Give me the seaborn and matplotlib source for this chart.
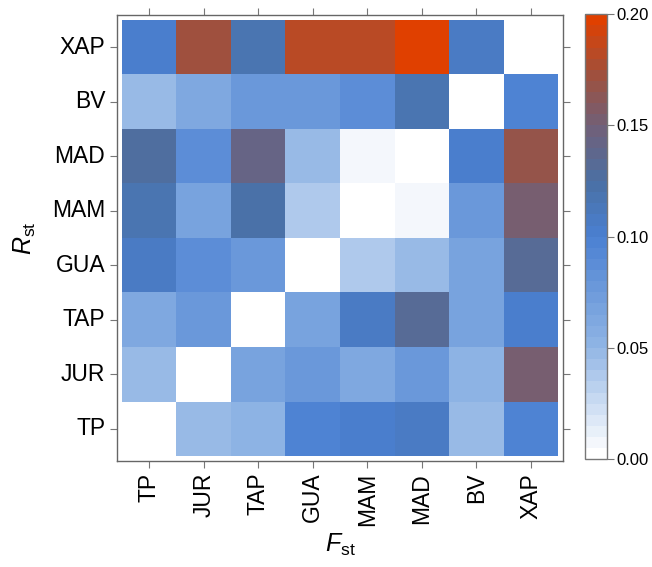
import seaborn as sns
import matplotlib.pyplot as plt
import numpy as np
import pandas as pd
from matplotlib.colors import LinearSegmentedColormap

# populations, same order on both axes
cols = ["TP", "JUR", "TAP", "GUA", "MAM", "MAD", "BV", "XAP"]
rows = ["XAP", "BV", "MAD", "MAM", "GUA", "TAP", "JUR", "TP"]

# values, one list per row (top to bottom)
xap = [0.105, 0.170, 0.115, 0.180, 0.180, 0.200, 0.110, 0.000]
bv = [0.045, 0.060, 0.080, 0.077, 0.088, 0.115, 0.000, 0.095]
mad = [0.125, 0.088, 0.145, 0.045, 0.008, 0.000, 0.100, 0.168]
mam = [0.115, 0.068, 0.120, 0.035, 0.000, 0.008, 0.077, 0.155]
gua = [0.108, 0.088, 0.078, 0.000, 0.035, 0.045, 0.068, 0.130]
tap = [0.060, 0.078, 0.000, 0.068, 0.108, 0.130, 0.068, 0.100]
jur = [0.045, 0.000, 0.068, 0.077, 0.062, 0.077, 0.050, 0.155]
tp = [0.000, 0.045, 0.050, 0.098, 0.100, 0.108, 0.045, 0.098]

cbar_ticks = [0.00, 0.05, 0.10, 0.15, 0.20]

df = pd.DataFrame([xap, bv, mad, mam, gua, tap, jur, tp], index=rows, columns=cols)

# white -> blue -> grey/brown -> orange, in 40 steps
cmap = LinearSegmentedColormap.from_list(
    "rst",
    [(0.0, "#ffffff"), (0.25, "#8fb4e4"), (0.5, "#4a80d2"),
     (0.625, "#4a70a4"), (0.75, "#70607a"), (0.875, "#a0503c"),
     (1.0, "#e04000")],
    N=40,
)

plt.rcParams["font.family"] = ["Liberation Sans", "DejaVu Sans"]
plt.rcParams["mathtext.fontset"] = "custom"
plt.rcParams["mathtext.rm"] = "Liberation Sans"
plt.rcParams["mathtext.it"] = "Liberation Sans:italic"

fig = plt.figure(figsize=(6.52, 5.67), dpi=100)
ax = fig.add_axes([0.1795, 0.187, 0.684, 0.7866])
cax = fig.add_axes([0.897, 0.19, 0.0337, 0.785])

sns.heatmap(df, ax=ax, cmap=cmap, vmin=0, vmax=0.2, cbar_ax=cax,
            cbar_kws={"ticks": cbar_ticks, "format": "%.2f"})

ax.set_xlim(-0.09, 8.09)
ax.set_ylim(8.09, -0.09)
for s in ax.spines.values():
    s.set_visible(True)
    s.set_color("#666666")
    s.set_linewidth(1.0)
ax.tick_params(axis="both", which="both", direction="out", length=5,
               color="#777777", labelsize=16.5, top=True, right=True,
               labeltop=False, labelright=False)
ax.set_xticklabels(cols, rotation=90)
ax.set_yticklabels(rows, rotation=0)
ax.set_xlabel(r"$F_{\rm st}$", fontsize=18, labelpad=4)
ax.set_ylabel(r"$R_{\rm st}$", fontsize=18, labelpad=10)

cax.tick_params(labelsize=12, length=5, pad=2, color="#777777")
cb = ax.collections[0].colorbar
cb.outline.set_edgecolor("#777777")
cb.outline.set_linewidth(1.0)

fig.savefig("out.png", dpi=100)
